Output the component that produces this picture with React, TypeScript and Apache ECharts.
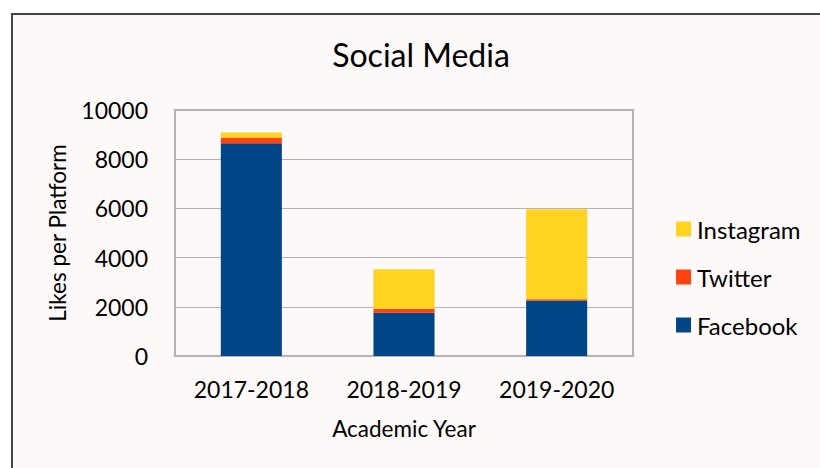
import React, { useEffect, useRef } from "react";
import * as echarts from "echarts";

const categories = ["2017-2018", "2018-2019", "2019-2020"];
const facebook = [8650, 1760, 2260];
const twitter = [220, 160, 50];
const instagram = [215, 1610, 3660];
const yTicks = { min: 0, max: 10000, interval: 2000 };

const FONT = "Lato";

export default function App() {
  const ref = useRef<HTMLDivElement>(null);
  useEffect(() => {
    if (!ref.current) return;
    const chart = echarts.init(ref.current, undefined, { renderer: "svg" });
    chart.setOption({
      animation: false,
      backgroundColor: "#ffffff",
      graphic: [
        {
          type: "rect",
          z: -10,
          silent: true,
          shape: { x: 12, y: 14, width: 900, height: 600 },
          style: { fill: "#fdf9f8", stroke: "#444444", lineWidth: 2 },
        },
      ],
      title: {
        text: "Social Media",
        left: 421,
        top: 38,
        padding: 0,
        textAlign: "center",
        textStyle: { fontFamily: FONT, fontSize: 32, fontWeight: "normal", color: "#000" },
      },
      legend: {
        orient: "vertical",
        left: 676,
        top: 217,
        padding: 0,
        icon: "rect",
        itemWidth: 15,
        itemHeight: 15,
        itemGap: 24,
        data: ["Instagram", "Twitter", "Facebook"],
        textStyle: { fontFamily: FONT, fontSize: 24, color: "#000", padding: [0, 0, 0, 1] },
      },
      grid: {
        left: 175,
        right: 187,
        top: 110,
        bottom: 112,
        show: true,
        borderColor: "#b3b3b3",
        borderWidth: 2,
        backgroundColor: "transparent",
      },
      xAxis: {
        type: "category",
        data: categories,
        name: "Academic Year",
        nameLocation: "middle",
        nameGap: 61,
        nameTextStyle: { fontFamily: FONT, fontSize: 22.5, color: "#000" },
        axisLine: { lineStyle: { color: "#b3b3b3", width: 2 } },
        axisTick: { show: false },
        axisLabel: { fontFamily: FONT, fontSize: 23, color: "#000", margin: 21 },
      },
      yAxis: {
        type: "value",
        min: yTicks.min,
        max: yTicks.max,
        interval: yTicks.interval,
        name: "Likes per Platform",
        nameLocation: "middle",
        nameGap: 106,
        nameTextStyle: { fontFamily: FONT, fontSize: 22.5, color: "#000" },
        axisLine: { show: true, lineStyle: { color: "#b3b3b3", width: 2 } },
        axisTick: { show: false },
        splitLine: { lineStyle: { color: "#b3b3b3", width: 1 } },
        axisLabel: {
          fontFamily: FONT,
          fontSize: 23,
          color: "#000",
          margin: 27,
          formatter: (v: number) => String(v),
        },
      },
      series: [
        {
          name: "Facebook",
          type: "bar",
          stack: "total",
          data: facebook,
          barWidth: "40%",
          itemStyle: { color: "#004586" },
        },
        {
          name: "Twitter",
          type: "bar",
          stack: "total",
          data: twitter,
          itemStyle: { color: "#ff420e" },
        },
        {
          name: "Instagram",
          type: "bar",
          stack: "total",
          data: instagram,
          itemStyle: { color: "#ffd320" },
        },
      ],
    });
    return () => chart.dispose();
  }, []);
  return (
    <div
      ref={ref}
      style={{ position: "fixed", left: 0, top: 0, width: 820, height: 468 }}
    />
  );
}
